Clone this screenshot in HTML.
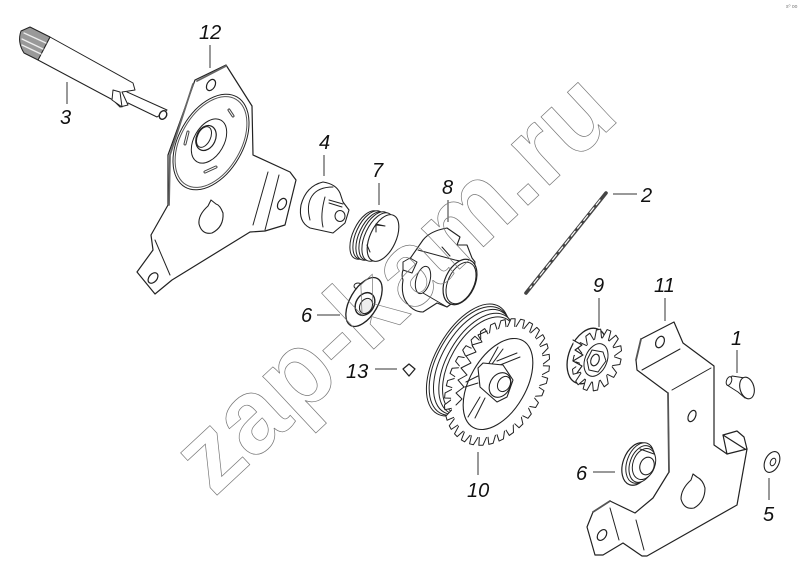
<!DOCTYPE html>
<html><head><meta charset="utf-8"><style>
html,body{margin:0;padding:0;background:#fff}
svg{display:block}
.l{font:italic 20px "Liberation Sans",sans-serif;fill:#111}
</style></head><body>
<svg width="800" height="570" viewBox="0 0 800 570" xmlns="http://www.w3.org/2000/svg">
<defs>
<path id="t" d="M-5 -59L-2.8 -68L2.8 -68L5 -59" fill="#fff" stroke="#222" stroke-width="1" stroke-linejoin="round" vector-effect="non-scaling-stroke"/>
<path id="s" d="M-4.6 -22L-2.8 -32L2.8 -32L4.6 -22" fill="#fff" stroke="#222" stroke-width="1" vector-effect="non-scaling-stroke"/>
</defs>
<rect width="800" height="570" fill="#fff"/>
<g fill="#fff" stroke="#222" stroke-width="1" stroke-linejoin="round" stroke-linecap="round">

<!-- Part 3 shaft -->
<path d="M50 37L133 83L135 90L122 92L128 105L120 107L113 100L38 60Z"/>
<path d="M30 27L50 37L38 60L24 53Q17 42 21 31Z" fill="#999"/>
<path d="M24 33L46 43M22 39L43 49M22 45L41 54" stroke="#eee" stroke-width="1.3"/>
<path d="M127 92L167 110L157 117L128 103" />
<ellipse cx="163" cy="115" rx="3.5" ry="4.5" transform="rotate(30 163 115)" stroke-width="1.4"/>
<path d="M113 90L120 92L122 107L112 100Z"/>

<!-- Part 12 plate -->
<path d="M195 80L226 65L252 106L253 155L290 172L296 180L285 225L265 231L250 232L172 280L155 294L137 272L153 250L151 235L168 205L168 155Z" stroke-width="1.2"/>
<path d="M197 81L226 66M170 155L193 84M169 205L170 155" stroke-width="1.8" stroke="#666"/>
<ellipse cx="211" cy="142" rx="32" ry="52" transform="rotate(30 211 142)"/>
<ellipse cx="211" cy="142" rx="30" ry="49.5" transform="rotate(30 211 142)" stroke="#555"/>
<ellipse cx="209" cy="141" rx="15" ry="24" transform="rotate(30 209 141)"/>
<ellipse cx="206" cy="138" rx="9.5" ry="13" transform="rotate(25 206 138)" stroke-width="1.2"/>
<ellipse cx="204" cy="137" rx="6.5" ry="11" transform="rotate(25 204 137)"/>
<ellipse cx="211" cy="85" rx="4" ry="6" transform="rotate(30 211 85)" stroke-width="1.2"/>
<ellipse cx="282" cy="204" rx="4" ry="6" transform="rotate(30 282 204)" stroke-width="1.2"/>
<ellipse cx="153" cy="278" rx="4" ry="6" transform="rotate(40 153 278)" stroke-width="1.2"/>
<path d="M229 110L233 116M188 132L185 144M205 172L216 167" stroke-width="3" stroke="#444"/>
<path d="M229 110L233 116M188 132L185 144M205 172L216 167" stroke-width="1" stroke="#fff"/>
<path d="M211 200L208 206Q198 215 199 224Q202 235 212 233Q224 227 223 213Q220 205 216 204Z" stroke-width="1.1"/>
<path d="M268 172L253 225M279 175L265 230M155 240L170 275"/>

<!-- Part 4 -->
<path d="M323 182Q336 184 340 193L343 202L349 210L345 223L333 233L310 228Q298 222 301 205Q306 186 323 182Z" stroke-width="1.1"/>
<path d="M310 220Q306 205 312 196Q318 187 333 187M325 197Q320 215 323 227M329 200L343 204M329 203L342 207"/>
<ellipse cx="340" cy="216" rx="5" ry="5.5" />

<!-- Part 7 spring -->
<ellipse cx="366" cy="235" rx="13" ry="26" transform="rotate(25 366 235)"/>
<ellipse cx="369" cy="235" rx="13" ry="26" transform="rotate(25 369 235)"/>
<ellipse cx="372" cy="236" rx="13" ry="26" transform="rotate(25 372 236)"/>
<ellipse cx="375" cy="236" rx="13" ry="26" transform="rotate(25 375 236)"/>
<ellipse cx="378" cy="237" rx="13" ry="26" transform="rotate(25 378 237)"/>
<ellipse cx="383" cy="238" rx="13" ry="25" transform="rotate(25 383 238)" stroke-width="1.1"/>
<path d="M376 224L385 226L376 225L376 232M367 245L370 252"/>

<!-- Part 8 -->
<path d="M447 228Q430 231 423 240L407 263Q400 272 403 280Q401 292 405 300Q412 312 423 312L437 303L447 307L470 290L475 262L472 258L467 245L457 245L460 237Z" stroke-width="1.1"/>
<path d="M418 250L455 260L475 264M423 293L447 307"/>
<ellipse cx="423" cy="280" rx="7" ry="14" transform="rotate(15 423 280)"/>
<ellipse cx="460" cy="282" rx="15" ry="24" transform="rotate(25 460 282)" stroke-width="1.2"/>
<ellipse cx="461" cy="283" rx="13" ry="22" transform="rotate(25 461 283)"/>
<path d="M403 262L410 258L417 262L412 273L403 270Z"/>
<path d="M442 247L450 256"/>

<!-- Part 6 upper -->
<ellipse cx="358" cy="286" rx="4" ry="3"/>
<ellipse cx="364" cy="302" rx="14" ry="27" transform="rotate(30 364 302)" stroke-width="1.3"/>
<ellipse cx="365" cy="304" rx="9" ry="12" transform="rotate(30 365 304)" stroke-width="1.4"/>
<ellipse cx="366" cy="306" rx="6" ry="8" transform="rotate(30 366 306)" fill="#eee"/>

<!-- Part 13 -->
<path d="M403 369L409 364L415 369L409 376Z" stroke-width="1.3"/>

<!-- Part 2 drill -->
<path d="M606 193L526 293" stroke-width="3.6" stroke="#444"/>
<path d="M600 200L530 288" stroke="#fff" stroke-width="1.2" stroke-dasharray="6 4"/>

<!-- Part 10 gear: pulley -->
<ellipse cx="468" cy="360" rx="32" ry="62" transform="rotate(30 468 360)"/>
<ellipse cx="470" cy="361" rx="32" ry="60" transform="rotate(30 470 361)"/>
<ellipse cx="473" cy="362" rx="31" ry="58" transform="rotate(30 473 362)"/>
<ellipse cx="477" cy="364" rx="30" ry="56" transform="rotate(30 477 364)"/>
<ellipse cx="480" cy="366" rx="30" ry="54" transform="rotate(30 480 366)"/>
<!-- gear teeth -->
<g transform="translate(497 382) rotate(30) scale(.68 1)">
<use href="#t"/><use href="#t" transform="rotate(11.25)"/><use href="#t" transform="rotate(22.5)"/><use href="#t" transform="rotate(33.75)"/><use href="#t" transform="rotate(45)"/><use href="#t" transform="rotate(56.25)"/><use href="#t" transform="rotate(67.5)"/><use href="#t" transform="rotate(78.75)"/><use href="#t" transform="rotate(90)"/><use href="#t" transform="rotate(101.25)"/><use href="#t" transform="rotate(112.5)"/><use href="#t" transform="rotate(123.75)"/><use href="#t" transform="rotate(135)"/><use href="#t" transform="rotate(146.25)"/><use href="#t" transform="rotate(157.5)"/><use href="#t" transform="rotate(168.75)"/><use href="#t" transform="rotate(180)"/><use href="#t" transform="rotate(191.25)"/><use href="#t" transform="rotate(202.5)"/><use href="#t" transform="rotate(213.75)"/><use href="#t" transform="rotate(225)"/><use href="#t" transform="rotate(236.25)"/><use href="#t" transform="rotate(247.5)"/><use href="#t" transform="rotate(258.75)"/><use href="#t" transform="rotate(270)"/><use href="#t" transform="rotate(281.25)"/><use href="#t" transform="rotate(292.5)"/><use href="#t" transform="rotate(303.75)"/><use href="#t" transform="rotate(315)"/><use href="#t" transform="rotate(326.25)"/><use href="#t" transform="rotate(337.5)"/><use href="#t" transform="rotate(348.75)"/>
<circle r="59.5" stroke="none"/>
</g>
<!-- inner zig-zag on the left side of the gear -->
<path d="M487 331L478 335L482 342L472 345L476 352L466 356L471 363L461 368L467 375L458 380L464 387L456 393L462 399L456 405" fill="none" stroke-width="1"/>
<ellipse cx="498" cy="384" rx="28" ry="50" transform="rotate(30 498 384)" stroke-width="1.1"/>
<path d="M520 357L500 365M517 353L497 361M498 347L488 365M503 349L492 364M468 417L480 397M475 418L485 398M465 387L478 383M466 382L478 376"/>
<path d="M478 368L483 363L503 365L513 380L507 397L497 402L480 387Z" stroke-width="1.1"/>
<ellipse cx="500" cy="385" rx="10" ry="13" transform="rotate(30 500 385)" stroke-width="1.1"/>
<ellipse cx="504" cy="384" rx="6" ry="8" transform="rotate(30 504 384)"/>

<!-- Part 9 gear -->
<ellipse cx="587" cy="356" rx="18" ry="29" transform="rotate(22 587 356)" stroke-width="1.3"/>
<g transform="translate(597 360) rotate(22) scale(.72 1)">
<use href="#s"/><use href="#s" transform="rotate(25.7)"/><use href="#s" transform="rotate(51.4)"/><use href="#s" transform="rotate(77.1)"/><use href="#s" transform="rotate(102.9)"/><use href="#s" transform="rotate(128.6)"/><use href="#s" transform="rotate(154.3)"/><use href="#s" transform="rotate(180)"/><use href="#s" transform="rotate(205.7)"/><use href="#s" transform="rotate(231.4)"/><use href="#s" transform="rotate(257.1)"/><use href="#s" transform="rotate(282.9)"/><use href="#s" transform="rotate(308.6)"/><use href="#s" transform="rotate(334.3)"/>
<circle r="22.5" stroke="none"/>
</g>
<path d="M573 340L582 345L575 350L583 355L573 361L582 366L577 373" stroke-width="1.1"/>
<ellipse cx="596" cy="360" rx="11" ry="17" transform="rotate(22 596 360)"/>
<path d="M592 350L603 352L606 361L598 372L589 370L587 360Z" />
<ellipse cx="595" cy="360" rx="4" ry="6" transform="rotate(22 595 360)" stroke-width="1.1"/>

<!-- Part 11 plate -->
<path d="M641 339L674 322L683 343L714 366L714 445L727 454L723 435L737 431L744 437L747 449L737 505L647 556L642 556L623 543L603 555L595 555L587 527L593 512L610 501L635 513L653 498L669 472L668 393L637 370L636 360Z" stroke-width="1.2"/>
<path d="M668 393L669 472M641 339L636 360M593 512L610 501" stroke="#555" stroke-width="1.8"/>
<path d="M727 454L747 449M723 435L745 449" stroke-width="1.3"/>
<path d="M642 370L680 349M672 390L711 368M610 508L619 540M636 520L644 550"/>
<ellipse cx="660" cy="342" rx="4" ry="6" transform="rotate(25 660 342)" stroke-width="1.2"/>
<ellipse cx="692" cy="416" rx="3.5" ry="6" transform="rotate(25 692 416)" stroke-width="1.2"/>
<ellipse cx="602" cy="535" rx="4" ry="6" transform="rotate(35 602 535)" stroke-width="1.2"/>
<path d="M693 474L691 480Q681 489 681 499Q684 510 694 508Q705 502 705 488Q703 480 697 477Z" stroke-width="1.1"/>

<!-- Part 6 lower -->
<ellipse cx="637" cy="464" rx="14" ry="22" transform="rotate(20 637 464)" stroke-width="1.2"/>
<ellipse cx="640" cy="463" rx="13" ry="21" transform="rotate(20 640 463)"/>
<ellipse cx="642" cy="464" rx="12" ry="19" transform="rotate(20 642 464)"/>
<ellipse cx="644" cy="464" rx="11" ry="16" transform="rotate(20 644 464)"/>
<ellipse cx="647" cy="466" rx="7" ry="9" transform="rotate(20 647 466)" stroke-width="1.1"/>
<path d="M640 449L654 454"/>

<!-- Part 1 rivet -->
<path d="M732 376L745 378L745 398L738 392L727 385Z"/>
<ellipse cx="729" cy="381" rx="2.5" ry="4.5" transform="rotate(20 729 381)"/>
<ellipse cx="747" cy="388" rx="7" ry="11" transform="rotate(-15 747 388)" stroke-width="1.1"/>

<!-- Part 5 washer -->
<ellipse cx="772" cy="462" rx="7" ry="11" transform="rotate(25 772 462)" stroke-width="1.1"/>
<ellipse cx="773" cy="462" rx="2.5" ry="4" transform="rotate(25 773 462)"/>
</g>

<!-- Leaders -->
<g stroke="#333" stroke-width="1" fill="none">
<path d="M210 45V68M67 82V104M324 155V176M379 183V205M448 200V222M613 194H637M599 298V327M665 298V321M737 350V373M317 315H340M375 369H397M478 452V475M593 472H615M769 478V500"/>
</g>

<!-- Watermark -->
<text x="214" y="498" transform="rotate(-43 214 498)" font-family="Liberation Sans, sans-serif" font-weight="bold" font-size="105.5" fill="none" stroke="#777" stroke-width="0.7">zap-kam.ru</text>

<!-- Labels -->
<text class="l" x="199" y="39">12</text>
<text class="l" x="60" y="124">3</text>
<text class="l" x="319" y="149">4</text>
<text class="l" x="372" y="177">7</text>
<text class="l" x="442" y="194">8</text>
<text class="l" x="641" y="202">2</text>
<text class="l" x="593" y="292">9</text>
<text class="l" x="654" y="292">11</text>
<text class="l" x="731" y="345">1</text>
<text class="l" x="301" y="322">6</text>
<text class="l" x="346" y="378">13</text>
<text class="l" x="467" y="497">10</text>
<text class="l" x="576" y="480">6</text>
<text class="l" x="763" y="521">5</text>
<text x="786" y="8" font-family="Liberation Sans, sans-serif" font-size="5" fill="#777">s⁰ oo</text>
</svg>
</body></html>
